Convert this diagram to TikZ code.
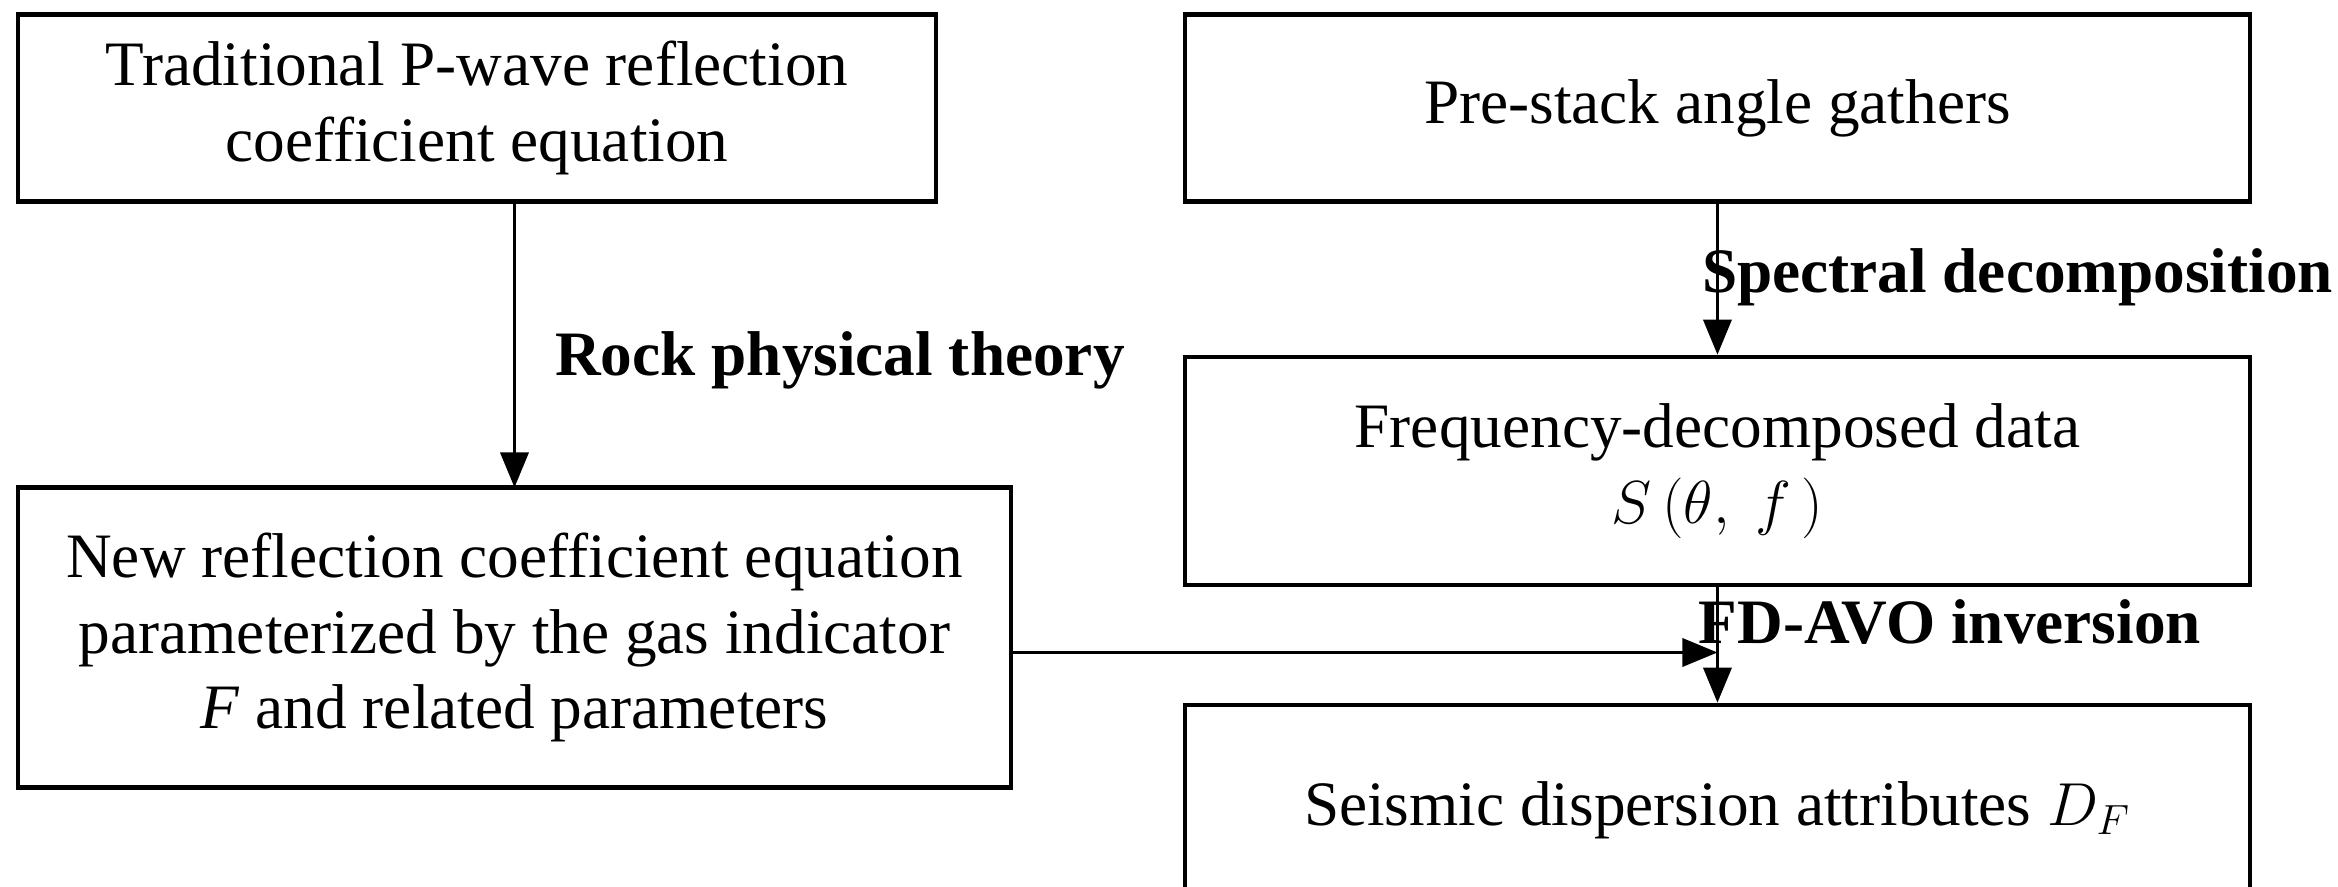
\documentclass[tikz,border=0pt]{standalone}
\usepackage{fontspec}
\setmainfont{Liberation Serif}
\usetikzlibrary{arrows.meta}
\begin{document}
\begin{tikzpicture}[x=0.015cm,y=-0.015cm,
  box/.style={draw,line width=1.3pt,align=center,inner sep=0pt,font=\fontsize{18}{21.5}\selectfont},
  arr/.style={-{Triangle[length=10pt,width=8pt]},line width=1pt},
  lab/.style={font=\fontsize{18}{21}\selectfont\bfseries}]
\useasboundingbox (0,0) rectangle (1558.7,591.3);
\node[box,minimum width=9.18cm,minimum height=1.875cm] (b1) at (318,72) {Traditional P-wave reflection\\coefficient equation};
\node[box,minimum width=10.65cm,minimum height=1.875cm] (b2) at (1145,72) {Pre-stack angle gathers};
\node[box,minimum width=10.65cm,minimum height=2.28cm] (b3) at (1145,314) {Frequency-decomposed data\\$S\,(\theta,\ f\,)$};
\node[box,minimum width=9.93cm,minimum height=3.0cm] (b4) at (343,425) {New reflection coefficient equation\\parameterized by the gas indicator\\\textit{F} and related parameters};
\node[box,minimum width=10.65cm,minimum height=2.1cm] (b5) at (1145,540) {Seismic dispersion attributes $D_F$};
\coordinate (t1) at (343,135);
\coordinate (t2) at (343,325);
\draw[arr] (t1) -- (t2);
\draw[arr] (b2) -- (b3);
\draw[arr] (b3) -- (b5);
\coordinate (m) at (1145,435);
\draw[arr] (b4.east |- m) -- (m);
\node[lab] (l1) at (560,240) {Rock physical theory};
\node[lab] (l2) at (1345,185) {Spectral decomposition};
\node[lab] (l3) at (1300,415) {FD-AVO inversion};
\end{tikzpicture}
\end{document}
